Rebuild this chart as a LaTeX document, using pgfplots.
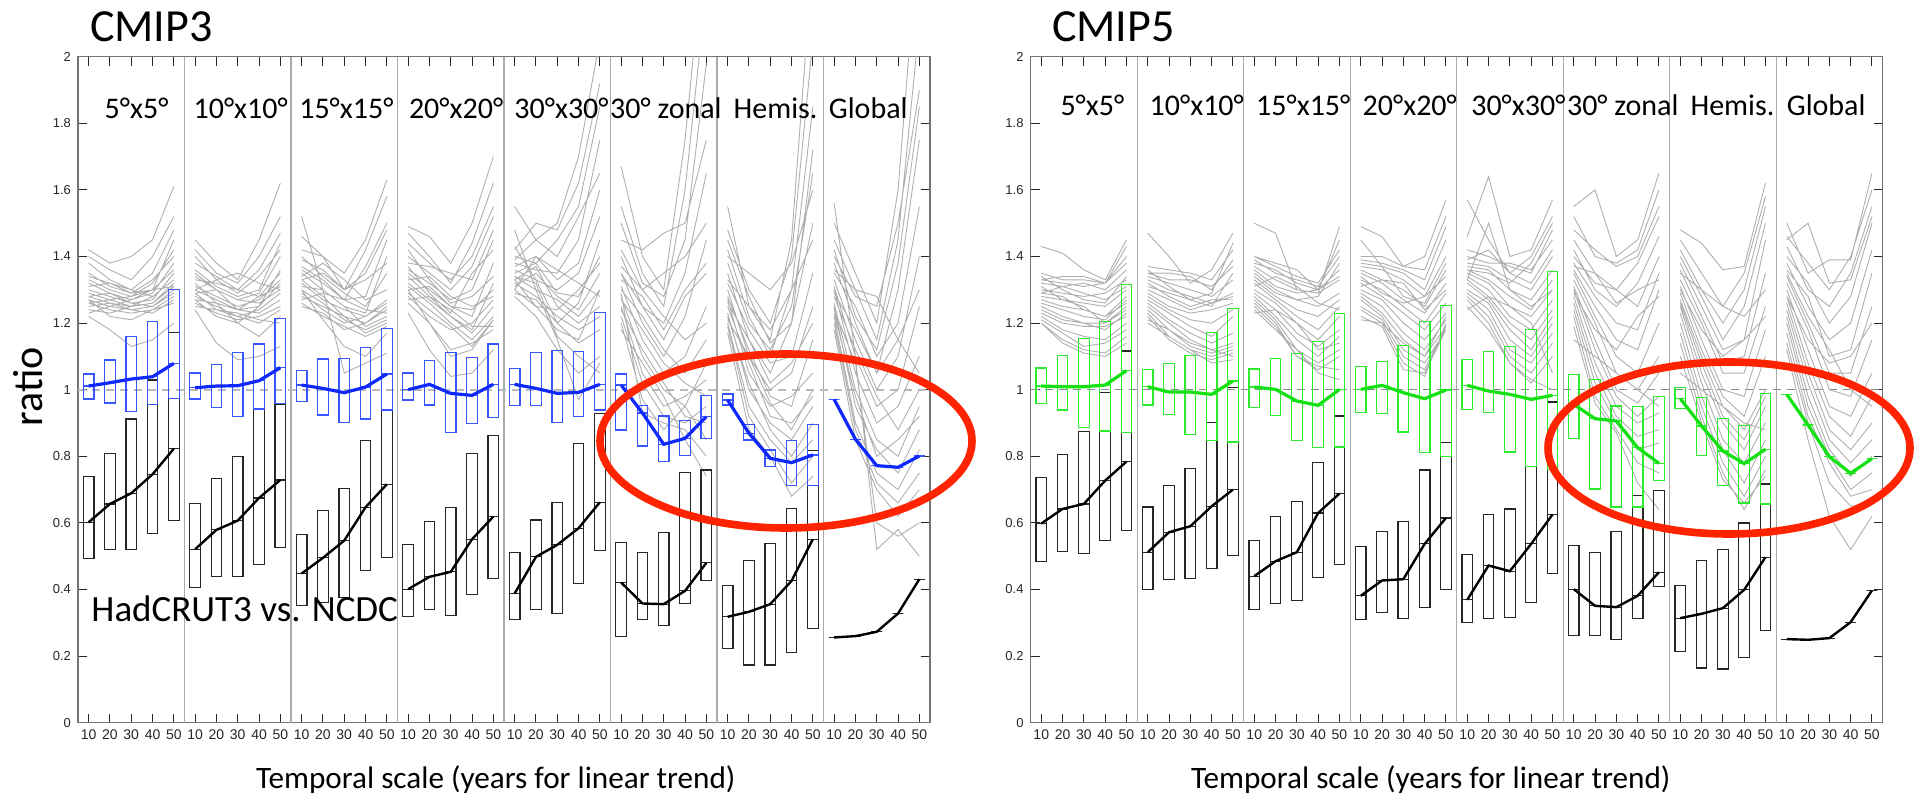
\documentclass[border=0pt]{standalone}
\usepackage{fontspec}
\setmainfont{Carlito}
\newfontfamily\tickfont{Liberation Sans}
\usepackage{pgfplots}
\pgfplotsset{compat=1.18}
\usepgfplotslibrary{statistics}
\usepackage{pgfplotstable}

\definecolor{boxblue}{RGB}{55,85,255}
\definecolor{lineblue}{RGB}{15,40,255}
\definecolor{boxgreen}{RGB}{45,235,45}
\definecolor{linegreen}{RGB}{20,225,20}
\definecolor{modelgray}{RGB}{175,175,175}
\definecolor{framegray}{RGB}{115,115,115}
\definecolor{sepgray}{RGB}{170,170,170}
\definecolor{ellred}{RGB}{255,35,0}

% ---------- box data (lq uq med) ----------
\pgfplotstableread{
lq uq med
0.972 1.047 1.011
0.960 1.089 1.021
0.934 1.159 1.032
0.956 1.204 1.039
0.974 1.302 1.079
0.972 1.050 1.006
0.947 1.076 1.011
0.919 1.112 1.012
0.942 1.137 1.027
0.959 1.214 1.066
0.964 1.058 1.014
0.924 1.092 1.004
0.901 1.094 0.991
0.912 1.126 1.008
0.939 1.184 1.047
0.969 1.050 1.000
0.954 1.087 1.016
0.872 1.112 0.989
0.899 1.097 0.983
0.916 1.137 1.016
0.952 1.064 1.016
0.952 1.112 1.004
0.902 1.117 0.989
0.919 1.114 0.992
0.939 1.232 1.016
0.879 1.047 1.014
0.831 0.952 0.930
0.784 0.921 0.836
0.803 0.907 0.854
0.854 0.983 0.919
0.954 0.987 0.969
0.849 0.896 0.869
0.769 0.819 0.794
0.713 0.847 0.781
0.713 0.896 0.804
0.971 0.971 0.971
0.851 0.851 0.851
0.772 0.772 0.772
0.767 0.767 0.767
0.801 0.801 0.801
}\boxAc
\pgfplotstableread{
lq uq med
0.493 0.739 0.602
0.519 0.809 0.657
0.519 0.912 0.689
0.567 1.029 0.746
0.607 1.172 0.823
0.406 0.659 0.521
0.440 0.733 0.579
0.440 0.800 0.607
0.475 0.940 0.675
0.526 0.957 0.729
0.353 0.564 0.448
0.360 0.637 0.495
0.376 0.704 0.547
0.456 0.847 0.647
0.496 0.939 0.716
0.320 0.534 0.401
0.340 0.604 0.438
0.323 0.647 0.453
0.385 0.809 0.551
0.432 0.862 0.619
0.311 0.511 0.388
0.340 0.609 0.498
0.328 0.662 0.534
0.418 0.839 0.584
0.517 0.929 0.662
0.258 0.542 0.421
0.311 0.511 0.358
0.291 0.572 0.356
0.358 0.752 0.396
0.426 0.759 0.480
0.222 0.411 0.318
0.173 0.487 0.333
0.173 0.539 0.356
0.210 0.644 0.426
0.283 0.817 0.551
0.256 0.256 0.256
0.260 0.260 0.260
0.273 0.273 0.273
0.328 0.328 0.328
0.431 0.431 0.431
}\boxAk
\pgfplotstableread{
lq uq med
0.958 1.065 1.011
0.939 1.102 1.009
0.886 1.154 1.009
0.876 1.205 1.014
0.871 1.315 1.057
0.954 1.060 1.009
0.926 1.079 0.993
0.866 1.102 0.993
0.848 1.172 0.986
0.843 1.244 1.026
0.946 1.062 1.008
0.923 1.094 1.001
0.848 1.109 0.966
0.826 1.145 0.953
0.828 1.230 1.001
0.931 1.070 1.001
0.929 1.085 1.013
0.873 1.132 0.991
0.811 1.205 0.973
0.799 1.254 0.999
0.941 1.090 1.013
0.931 1.115 0.996
0.813 1.129 0.986
0.769 1.180 0.971
0.761 1.355 0.983
0.853 1.045 0.956
0.702 1.030 0.913
0.648 0.951 0.906
0.648 0.949 0.826
0.727 0.979 0.779
0.943 1.006 0.973
0.803 0.976 0.891
0.712 0.914 0.816
0.660 0.893 0.778
0.657 0.989 0.821
0.986 0.986 0.986
0.894 0.894 0.894
0.799 0.799 0.799
0.749 0.749 0.749
0.793 0.793 0.793
}\boxBc
\pgfplotstableread{
lq uq med
0.485 0.736 0.598
0.513 0.806 0.642
0.508 0.874 0.657
0.548 0.991 0.727
0.578 1.116 0.784
0.401 0.648 0.512
0.429 0.713 0.572
0.434 0.764 0.590
0.463 0.901 0.650
0.503 1.006 0.700
0.339 0.548 0.440
0.359 0.620 0.485
0.367 0.665 0.512
0.437 0.781 0.630
0.475 0.921 0.688
0.311 0.528 0.381
0.332 0.573 0.427
0.314 0.605 0.431
0.347 0.759 0.537
0.401 0.841 0.615
0.302 0.505 0.369
0.312 0.625 0.472
0.315 0.642 0.455
0.362 0.769 0.537
0.447 0.963 0.625
0.262 0.533 0.401
0.262 0.510 0.351
0.249 0.575 0.347
0.314 0.682 0.381
0.409 0.698 0.452
0.214 0.411 0.314
0.164 0.488 0.327
0.161 0.520 0.344
0.197 0.600 0.399
0.276 0.717 0.497
0.251 0.251 0.251
0.249 0.249 0.249
0.254 0.254 0.254
0.302 0.302 0.302
0.397 0.397 0.397
}\boxBk

% one prepared box per table row, drawn at row+0.5
\newcommand{\drawbox}[3]{%
  \pgfplotstablegetelem{#2}{lq}\of#1\let\LQ\pgfplotsretval
  \pgfplotstablegetelem{#2}{uq}\of#1\let\UQ\pgfplotsretval
  \pgfplotstablegetelem{#2}{med}\of#1\let\MED\pgfplotsretval
  \pgfmathsetmacro\POS{#2+0.5}%
  \edef\temp{\noexpand\addplot[#3, boxplot prepared={draw position=\POS,
      lower whisker=\LQ, lower quartile=\LQ, median=\MED,
      upper quartile=\UQ, upper whisker=\UQ, box extend=0.5, whisker extend=0}] coordinates {};}%
  \temp
}

\pgfplotsset{
  panelaxis/.style={
    width=426pt, height=333pt, scale only axis,
    anchor=south west,
    xmin=0, xmax=40, ymin=0, ymax=2,
    ytick={0,0.2,0.4,0.6,0.8,1,1.2,1.4,1.6,1.8,2},
    xtick={0.5,1.5,...,39.5},
    xticklabels={10,20,30,40,50,10,20,30,40,50,10,20,30,40,50,10,20,30,40,50,
                 10,20,30,40,50,10,20,30,40,50,10,20,30,40,50,10,20,30,40,50},
    tick align=inside,
    major tick length=4.5pt,
    tick style={black!85, line width=0.5pt},
    axis line style={framegray, line width=0.7pt},
    xticklabel style={font=\tickfont\fontsize{7}{8}\selectfont, text=black!85},
    yticklabel style={font=\tickfont\fontsize{6.5}{7}\selectfont, text=black!85},
    /pgf/number format/assume math mode=true,
    extra x ticks={5,10,15,20,25,30,35},
    extra x tick labels={},
    extra x tick style={grid=major, major grid style={sepgray, line width=0.6pt}, major tick length=0pt},
    extra y ticks={1},
    extra y tick labels={},
    unbounded coords=jump,
    boxplot/draw direction=y,
  },
  model/.style={color=modelgray, line width=0.45pt},
  obsbox/.style={draw=black!85, line width=0.6pt, solid},
  bluebox/.style={draw=boxblue, line width=0.6pt, solid},
  greenbox/.style={draw=boxgreen, line width=0.6pt, solid},
}
\tikzset{plab/.style={anchor=base, font=\fontsize{15}{18}\selectfont}}

\begin{document}
\begin{tikzpicture}
\useasboundingbox (0,0) rectangle (958pt,397pt);

% ================= CMIP3 =================
\begin{axis}[panelaxis, at={(39pt,35.65pt)},
  extra y tick style={grid=major, major grid style={black!27, line width=1pt, dash pattern=on 4pt off 3pt}, major tick length=0pt}]
% model lines
\addplot[model] table[header=false, row sep=\\, x expr={mod(\coordindex,6)+0.5}, y index=0]{
1.42\\1.38\\1.40\\1.45\\1.61\\nan\\
1.40\\1.36\\1.33\\1.40\\1.52\\nan\\
1.38\\1.33\\1.30\\1.35\\1.48\\nan\\
1.34\\1.32\\1.29\\1.30\\1.45\\nan\\
1.33\\1.30\\1.28\\1.32\\1.42\\nan\\
1.32\\1.29\\1.27\\1.29\\1.38\\nan\\
1.31\\1.32\\1.30\\1.28\\1.33\\nan\\
1.30\\1.28\\1.26\\1.27\\1.35\\nan\\
1.29\\1.27\\1.28\\1.30\\1.31\\nan\\
1.28\\1.26\\1.25\\1.26\\1.32\\nan\\
1.28\\1.29\\1.26\\1.25\\1.29\\nan\\
1.27\\1.25\\1.24\\1.25\\1.30\\nan\\
1.26\\1.27\\1.25\\1.28\\1.33\\nan\\
1.26\\1.24\\1.23\\1.24\\1.28\\nan\\
1.25\\1.26\\1.24\\1.23\\1.27\\nan\\
1.24\\1.23\\1.25\\1.26\\1.31\\nan\\
1.23\\1.25\\1.27\\1.30\\1.36\\nan\\
1.22\\1.18\\1.13\\1.15\\1.20\\nan\\
1.35\\1.31\\1.29\\1.33\\1.40\\nan\\
1.27\\1.22\\1.21\\1.24\\1.26\\nan\\
};
\addplot[model] table[header=false, row sep=\\, x expr={mod(\coordindex,6)+5.5}, y index=0]{
1.45\\1.38\\1.33\\1.45\\1.62\\nan\\
1.42\\1.35\\1.32\\1.40\\1.52\\nan\\
1.38\\1.34\\1.30\\1.36\\1.47\\nan\\
1.36\\1.31\\1.28\\1.30\\1.44\\nan\\
1.34\\1.30\\1.27\\1.29\\1.40\\nan\\
1.33\\1.32\\1.30\\1.28\\1.35\\nan\\
1.31\\1.28\\1.25\\1.27\\1.33\\nan\\
1.30\\1.27\\1.24\\1.25\\1.32\\nan\\
1.29\\1.30\\1.27\\1.26\\1.30\\nan\\
1.28\\1.25\\1.22\\1.24\\1.29\\nan\\
1.27\\1.26\\1.24\\1.23\\1.27\\nan\\
1.26\\1.23\\1.21\\1.22\\1.25\\nan\\
1.25\\1.24\\1.22\\1.20\\1.24\\nan\\
1.24\\1.14\\1.09\\1.10\\1.13\\nan\\
1.32\\1.26\\1.20\\1.16\\1.22\\nan\\
1.30\\1.33\\1.35\\1.32\\1.30\\nan\\
1.27\\1.22\\1.20\\1.25\\1.36\\nan\\
1.35\\1.30\\1.24\\1.28\\1.31\\nan\\
1.29\\1.24\\1.23\\1.21\\1.20\\nan\\
1.40\\1.33\\1.29\\1.34\\1.42\\nan\\
};
\addplot[model] table[header=false, row sep=\\, x expr={mod(\coordindex,6)+10.5}, y index=0]{
1.52\\1.30\\1.05\\1.08\\1.11\\nan\\
1.46\\1.40\\1.35\\1.45\\1.63\\nan\\
1.42\\1.40\\1.30\\1.42\\1.58\\nan\\
1.39\\1.36\\1.30\\1.35\\1.48\\nan\\
1.37\\1.33\\1.27\\1.28\\1.45\\nan\\
1.35\\1.30\\1.25\\1.23\\1.40\\nan\\
1.34\\1.38\\1.33\\1.27\\1.30\\nan\\
1.33\\1.28\\1.22\\1.20\\1.25\\nan\\
1.32\\1.27\\1.24\\1.22\\1.27\\nan\\
1.31\\1.30\\1.25\\1.19\\1.22\\nan\\
1.30\\1.26\\1.21\\1.18\\1.21\\nan\\
1.29\\1.24\\1.20\\1.22\\1.26\\nan\\
1.28\\1.25\\1.22\\1.17\\1.20\\nan\\
1.27\\1.29\\1.27\\1.24\\1.23\\nan\\
1.26\\1.22\\1.19\\1.16\\1.19\\nan\\
1.25\\1.23\\1.18\\1.20\\1.24\\nan\\
1.36\\1.32\\1.27\\1.37\\1.50\\nan\\
1.40\\1.34\\1.29\\1.25\\1.35\\nan\\
1.30\\1.21\\1.13\\1.10\\1.17\\nan\\
1.33\\1.35\\1.30\\1.33\\1.38\\nan\\
};
\addplot[model] table[header=false, row sep=\\, x expr={mod(\coordindex,6)+15.5}, y index=0]{
1.49\\1.46\\1.38\\1.50\\1.70\\nan\\
1.47\\1.40\\1.32\\1.44\\1.62\\nan\\
1.44\\1.38\\1.33\\1.40\\1.55\\nan\\
1.40\\1.35\\1.30\\1.37\\1.52\\nan\\
1.38\\1.37\\1.35\\1.33\\1.48\\nan\\
1.36\\1.32\\1.27\\1.30\\1.45\\nan\\
1.35\\1.30\\1.25\\1.22\\1.38\\nan\\
1.34\\1.28\\1.22\\1.18\\1.32\\nan\\
1.33\\1.34\\1.28\\1.25\\1.28\\nan\\
1.32\\1.27\\1.22\\1.17\\1.25\\nan\\
1.31\\1.26\\1.20\\1.15\\1.22\\nan\\
1.30\\1.31\\1.25\\1.24\\1.30\\nan\\
1.29\\1.24\\1.19\\1.13\\1.21\\nan\\
1.28\\1.22\\1.18\\1.20\\1.27\\nan\\
1.27\\1.28\\1.24\\1.19\\1.19\\nan\\
1.26\\1.20\\1.12\\1.14\\1.18\\nan\\
1.23\\1.12\\1.04\\1.05\\1.12\\nan\\
1.30\\1.20\\1.10\\1.12\\1.21\\nan\\
1.37\\1.29\\1.23\\1.35\\1.42\\nan\\
1.42\\1.33\\1.26\\1.28\\1.34\\nan\\
};
\addplot[model] table[header=false, row sep=\\, x expr={mod(\coordindex,6)+20.5}, y index=0]{
1.55\\1.45\\1.50\\1.70\\2.05\\nan\\
1.42\\1.50\\1.48\\1.62\\1.92\\nan\\
1.40\\1.38\\1.45\\1.55\\1.85\\nan\\
1.38\\1.36\\1.35\\1.45\\1.75\\nan\\
1.37\\1.40\\1.33\\1.38\\1.60\\nan\\
1.36\\1.33\\1.30\\1.35\\1.52\\nan\\
1.35\\1.38\\1.29\\1.28\\1.40\\nan\\
1.34\\1.30\\1.27\\1.22\\1.30\\nan\\
1.33\\1.37\\1.25\\1.20\\1.25\\nan\\
1.32\\1.28\\1.22\\1.18\\1.22\\nan\\
1.31\\1.35\\1.28\\1.24\\1.35\\nan\\
1.30\\1.25\\1.18\\1.15\\1.30\\nan\\
1.29\\1.27\\1.20\\1.14\\1.18\\nan\\
1.28\\1.22\\1.12\\1.05\\1.10\\nan\\
1.48\\1.30\\1.15\\0.97\\1.08\\nan\\
1.43\\1.33\\1.20\\1.26\\1.45\\nan\\
1.39\\1.45\\1.40\\1.52\\1.65\\nan\\
1.33\\1.25\\1.24\\1.30\\1.38\\nan\\
1.30\\1.40\\1.36\\1.32\\1.28\\nan\\
1.34\\1.32\\1.16\\1.10\\1.05\\nan\\
};
\addplot[model] table[header=false, row sep=\\, x expr={mod(\coordindex,6)+25.5}, y index=0]{
1.67\\1.40\\1.30\\1.75\\2.40\\nan\\
1.55\\1.35\\1.25\\1.60\\2.20\\nan\\
1.50\\1.32\\1.28\\1.45\\1.98\\nan\\
1.45\\1.42\\1.47\\1.50\\1.75\\nan\\
1.40\\1.25\\1.20\\1.35\\1.65\\nan\\
1.37\\1.30\\1.35\\1.40\\1.50\\nan\\
1.35\\1.20\\1.10\\1.22\\1.45\\nan\\
1.33\\1.28\\1.18\\1.30\\1.38\\nan\\
1.31\\1.15\\1.05\\1.10\\1.25\\nan\\
1.30\\1.22\\1.12\\1.05\\1.15\\nan\\
1.28\\1.10\\1.00\\0.95\\1.08\\nan\\
1.27\\1.18\\1.08\\1.02\\0.98\\nan\\
1.25\\1.05\\0.95\\0.98\\1.03\\nan\\
1.24\\1.12\\1.02\\0.92\\0.90\\nan\\
1.22\\1.02\\0.92\\0.90\\0.95\\nan\\
1.20\\0.97\\0.88\\0.95\\0.85\\nan\\
1.18\\1.08\\0.98\\0.85\\0.74\\nan\\
1.35\\1.25\\1.15\\1.28\\1.35\\nan\\
1.42\\1.30\\1.22\\1.15\\1.20\\nan\\
1.29\\0.93\\0.90\\0.88\\0.80\\nan\\
};
\addplot[model] table[header=false, row sep=\\, x expr={mod(\coordindex,6)+30.5}, y index=0]{
1.55\\1.25\\1.15\\1.45\\2.30\\nan\\
1.48\\1.30\\1.20\\1.40\\2.05\\nan\\
1.42\\1.22\\1.10\\1.30\\1.85\\nan\\
1.38\\1.20\\1.12\\1.25\\1.65\\nan\\
1.35\\1.15\\1.05\\1.20\\1.50\\nan\\
1.32\\1.18\\1.08\\1.10\\1.35\\nan\\
1.30\\1.10\\1.00\\1.05\\1.25\\nan\\
1.28\\1.12\\0.98\\0.95\\1.15\\nan\\
1.27\\1.05\\0.95\\0.98\\1.05\\nan\\
1.25\\1.08\\0.92\\0.90\\0.98\\nan\\
1.23\\1.00\\0.90\\0.85\\0.95\\nan\\
1.22\\1.02\\0.88\\0.80\\0.90\\nan\\
1.20\\0.95\\0.85\\0.78\\0.85\\nan\\
1.19\\0.92\\0.82\\0.72\\0.80\\nan\\
1.17\\0.88\\0.80\\0.68\\0.74\\nan\\
1.33\\1.25\\1.18\\1.30\\1.45\\nan\\
1.40\\1.35\\1.30\\1.38\\1.60\\nan\\
1.26\\1.15\\1.02\\1.08\\1.20\\nan\\
1.21\\1.10\\0.96\\0.88\\1.00\\nan\\
1.45\\1.28\\1.14\\1.20\\1.72\\nan\\
};
\addplot[model] table[header=false, row sep=\\, x expr={mod(\coordindex,6)+35.5}, y index=0]{
1.56\\1.10\\0.52\\0.58\\0.50\\nan\\
1.50\\1.35\\1.20\\1.60\\2.40\\nan\\
1.45\\1.30\\1.15\\1.45\\2.10\\nan\\
1.40\\1.28\\1.25\\1.50\\1.90\\nan\\
1.38\\1.20\\1.05\\1.30\\1.75\\nan\\
1.35\\1.25\\1.10\\1.20\\1.55\\nan\\
1.33\\1.15\\1.00\\1.10\\1.40\\nan\\
1.31\\1.10\\0.95\\1.00\\1.25\\nan\\
1.30\\1.05\\0.90\\0.95\\1.10\\nan\\
1.28\\1.12\\0.98\\0.88\\1.00\\nan\\
1.26\\1.00\\0.85\\0.80\\0.95\\nan\\
1.25\\0.95\\0.82\\0.75\\0.88\\nan\\
1.23\\0.98\\0.80\\0.85\\0.92\\nan\\
1.22\\0.90\\0.75\\0.70\\0.82\\nan\\
1.20\\0.88\\0.72\\0.66\\0.75\\nan\\
1.18\\0.85\\0.70\\0.62\\0.70\\nan\\
1.36\\1.30\\1.28\\1.15\\1.05\\nan\\
1.42\\1.22\\1.12\\1.38\\1.85\\nan\\
1.29\\1.18\\1.05\\1.15\\1.30\\nan\\
1.24\\1.08\\0.60\\0.56\\0.60\\nan\\
};
% black boxes (observational)
\pgfplotsinvokeforeach{0,...,39}{\drawbox{\boxAk}{#1}{obsbox}}
\pgfplotsinvokeforeach{0:5,5:10,10:15,15:20,20:25,25:30,30:35,35:40}{
  \addplot[black, line width=1.2pt, restrict x to domain=#1] table[x expr=\coordindex+0.5, y=med]{\boxAk};
}
% blue boxes (models)
\pgfplotsinvokeforeach{0,...,39}{\drawbox{\boxAc}{#1}{bluebox}}
\pgfplotsinvokeforeach{0:5,5:10,10:15,15:20,20:25,25:30,30:35,35:40}{
  \addplot[lineblue, line width=1.6pt, restrict x to domain=#1] table[x expr=\coordindex+0.5, y=med]{\boxAc};
}
\node[plab] at (axis cs:2.75,1.813) {5°x5°};
\node[plab] at (axis cs:7.64,1.813) {10°x10°};
\node[plab] at (axis cs:12.6,1.813) {15°x15°};
\node[plab] at (axis cs:17.75,1.813) {20°x20°};
\node[plab] at (axis cs:22.7,1.813) {30°x30°};
\node[plab] at (axis cs:27.6,1.813) {30° zonal};
\node[plab] at (axis cs:32.75,1.813) {Hemis.};
\node[plab] at (axis cs:37.1,1.813) {Global};
\node[anchor=base west, font=\fontsize{18.5}{20}\selectfont] at (axis cs:0.3,0.303) {HadCRUT3 vs. NCDC};
\end{axis}

% ================= CMIP5 =================
\begin{axis}[panelaxis, at={(515.3pt,35.65pt)},
  extra y tick style={grid=major, major grid style={black!45, line width=0.5pt, dash pattern=on 4pt off 3pt}, major tick length=0pt}]
\addplot[model] table[header=false, row sep=\\, x expr={mod(\coordindex,6)+0.5}, y index=0]{
1.43\\1.41\\1.36\\1.33\\1.45\\nan\\
1.35\\1.33\\1.33\\1.32\\1.43\\nan\\
1.33\\1.34\\1.34\\1.32\\1.40\\nan\\
1.33\\1.32\\1.31\\1.32\\1.38\\nan\\
1.32\\1.31\\1.32\\1.30\\1.36\\nan\\
1.30\\1.29\\1.28\\1.29\\1.33\\nan\\
1.29\\1.31\\1.29\\1.27\\1.31\\nan\\
1.28\\1.27\\1.26\\1.25\\1.30\\nan\\
1.27\\1.25\\1.24\\1.22\\1.28\\nan\\
1.26\\1.24\\1.22\\1.21\\1.27\\nan\\
1.25\\1.22\\1.20\\1.20\\1.25\\nan\\
1.24\\1.21\\1.20\\1.18\\1.23\\nan\\
1.23\\1.20\\1.19\\1.19\\1.22\\nan\\
1.22\\1.18\\1.16\\1.15\\1.20\\nan\\
1.21\\1.17\\1.13\\1.14\\1.18\\nan\\
1.20\\1.15\\1.12\\1.11\\1.16\\nan\\
1.20\\1.14\\1.11\\1.10\\1.14\\nan\\
1.31\\1.27\\1.25\\1.20\\1.24\\nan\\
1.34\\1.30\\1.27\\1.26\\1.34\\nan\\
1.29\\1.28\\1.24\\1.22\\1.26\\nan\\
};
\addplot[model] table[header=false, row sep=\\, x expr={mod(\coordindex,6)+5.5}, y index=0]{
1.47\\1.40\\1.32\\1.36\\1.47\\nan\\
1.37\\1.36\\1.35\\1.33\\1.42\\nan\\
1.35\\1.35\\1.34\\1.30\\1.39\\nan\\
1.35\\1.33\\1.33\\1.31\\1.37\\nan\\
1.34\\1.32\\1.30\\1.28\\1.33\\nan\\
1.33\\1.30\\1.28\\1.26\\1.29\\nan\\
1.32\\1.28\\1.25\\1.27\\1.27\\nan\\
1.30\\1.27\\1.24\\1.26\\1.28\\nan\\
1.29\\1.25\\1.23\\1.24\\1.26\\nan\\
1.28\\1.24\\1.21\\1.20\\1.24\\nan\\
1.27\\1.23\\1.19\\1.16\\1.22\\nan\\
1.26\\1.21\\1.17\\1.14\\1.17\\nan\\
1.25\\1.20\\1.15\\1.12\\1.14\\nan\\
1.24\\1.18\\1.13\\1.11\\1.13\\nan\\
1.23\\1.16\\1.12\\1.10\\1.12\\nan\\
1.22\\1.15\\1.11\\1.09\\1.11\\nan\\
1.21\\1.18\\1.14\\1.12\\1.10\\nan\\
1.20\\1.16\\1.12\\1.08\\1.09\\nan\\
1.31\\1.29\\1.27\\1.25\\1.35\\nan\\
1.36\\1.31\\1.27\\1.29\\1.44\\nan\\
};
\addplot[model] table[header=false, row sep=\\, x expr={mod(\coordindex,6)+10.5}, y index=0]{
1.50\\1.47\\1.30\\1.29\\1.49\\nan\\
1.40\\1.38\\1.36\\1.30\\1.45\\nan\\
1.40\\1.37\\1.34\\1.32\\1.42\\nan\\
1.39\\1.35\\1.33\\1.31\\1.40\\nan\\
1.38\\1.36\\1.32\\1.30\\1.36\\nan\\
1.37\\1.33\\1.30\\1.29\\1.33\\nan\\
1.36\\1.31\\1.29\\1.30\\1.34\\nan\\
1.35\\1.30\\1.27\\1.25\\1.29\\nan\\
1.33\\1.28\\1.24\\1.22\\1.27\\nan\\
1.32\\1.27\\1.22\\1.18\\1.25\\nan\\
1.30\\1.26\\1.20\\1.15\\1.22\\nan\\
1.29\\1.24\\1.17\\1.13\\1.18\\nan\\
1.28\\1.22\\1.15\\1.10\\1.16\\nan\\
1.27\\1.21\\1.12\\1.08\\1.12\\nan\\
1.26\\1.20\\1.10\\1.06\\1.10\\nan\\
1.25\\1.19\\1.10\\1.07\\1.06\\nan\\
1.24\\1.18\\1.12\\1.05\\1.03\\nan\\
1.23\\1.24\\1.20\\1.12\\1.14\\nan\\
1.34\\1.29\\1.27\\1.28\\1.38\\nan\\
1.31\\1.34\\1.31\\1.26\\1.24\\nan\\
};
\addplot[model] table[header=false, row sep=\\, x expr={mod(\coordindex,6)+15.5}, y index=0]{
1.49\\1.46\\1.37\\1.40\\1.57\\nan\\
1.40\\1.40\\1.37\\1.36\\1.52\\nan\\
1.39\\1.38\\1.36\\1.33\\1.49\\nan\\
1.38\\1.37\\1.35\\1.30\\1.45\\nan\\
1.37\\1.36\\1.33\\1.28\\1.40\\nan\\
1.36\\1.33\\1.30\\1.25\\1.36\\nan\\
1.35\\1.32\\1.27\\1.23\\1.32\\nan\\
1.33\\1.30\\1.25\\1.20\\1.29\\nan\\
1.32\\1.28\\1.23\\1.18\\1.26\\nan\\
1.30\\1.27\\1.20\\1.15\\1.23\\nan\\
1.29\\1.25\\1.17\\1.12\\1.21\\nan\\
1.28\\1.23\\1.15\\1.10\\1.19\\nan\\
1.27\\1.22\\1.12\\1.08\\1.18\\nan\\
1.25\\1.21\\1.10\\1.06\\1.19\\nan\\
1.24\\1.20\\1.08\\1.04\\1.20\\nan\\
1.22\\1.19\\1.06\\1.05\\1.18\\nan\\
1.21\\1.20\\1.14\\1.10\\1.22\\nan\\
1.31\\1.33\\1.32\\1.24\\1.30\\nan\\
1.45\\1.37\\1.28\\1.26\\1.38\\nan\\
1.34\\1.29\\1.26\\1.28\\1.34\\nan\\
};
\addplot[model] table[header=false, row sep=\\, x expr={mod(\coordindex,6)+20.5}, y index=0]{
1.46\\1.64\\1.40\\1.42\\1.57\\nan\\
1.57\\1.45\\1.35\\1.40\\1.52\\nan\\
1.42\\1.40\\1.37\\1.35\\1.48\\nan\\
1.40\\1.38\\1.38\\1.36\\1.45\\nan\\
1.39\\1.42\\1.35\\1.32\\1.42\\nan\\
1.38\\1.37\\1.33\\1.30\\1.40\\nan\\
1.37\\1.36\\1.30\\1.27\\1.36\\nan\\
1.36\\1.33\\1.28\\1.24\\1.33\\nan\\
1.35\\1.32\\1.25\\1.22\\1.30\\nan\\
1.34\\1.30\\1.22\\1.18\\1.27\\nan\\
1.33\\1.28\\1.20\\1.15\\1.24\\nan\\
1.32\\1.27\\1.18\\1.12\\1.22\\nan\\
1.30\\1.26\\1.15\\1.10\\1.20\\nan\\
1.29\\1.24\\1.12\\1.08\\1.17\\nan\\
1.28\\1.22\\1.10\\1.05\\1.14\\nan\\
1.27\\1.20\\1.08\\1.02\\1.10\\nan\\
1.25\\1.18\\1.08\\1.03\\1.00\\nan\\
1.24\\1.28\\1.25\\1.20\\1.05\\nan\\
1.33\\1.50\\1.30\\1.25\\1.30\\nan\\
1.36\\1.35\\1.32\\1.38\\1.50\\nan\\
};
\addplot[model] table[header=false, row sep=\\, x expr={mod(\coordindex,6)+25.5}, y index=0]{
1.55\\1.60\\1.40\\1.45\\1.65\\nan\\
1.52\\1.40\\1.38\\1.42\\1.60\\nan\\
1.48\\1.42\\1.37\\1.40\\1.55\\nan\\
1.45\\1.35\\1.30\\1.38\\1.52\\nan\\
1.42\\1.30\\1.25\\1.32\\1.46\\nan\\
1.40\\1.32\\1.30\\1.25\\1.40\\nan\\
1.38\\1.28\\1.20\\1.18\\1.35\\nan\\
1.36\\1.25\\1.15\\1.12\\1.30\\nan\\
1.35\\1.22\\1.10\\1.05\\1.20\\nan\\
1.33\\1.20\\1.05\\1.00\\1.10\\nan\\
1.31\\1.15\\1.00\\0.96\\1.05\\nan\\
1.30\\1.12\\0.98\\0.92\\0.98\\nan\\
1.28\\1.08\\0.95\\0.90\\0.93\\nan\\
1.26\\1.05\\0.92\\0.86\\0.88\\nan\\
1.24\\1.02\\0.90\\0.82\\0.84\\nan\\
1.22\\0.98\\0.88\\0.78\\0.75\\nan\\
1.19\\0.96\\0.87\\0.72\\0.64\\nan\\
1.15\\1.10\\1.05\\1.00\\0.95\\nan\\
1.37\\1.35\\1.26\\1.30\\1.33\\nan\\
1.29\\1.18\\1.12\\1.22\\1.28\\nan\\
};
\addplot[model] table[header=false, row sep=\\, x expr={mod(\coordindex,6)+30.5}, y index=0]{
1.48\\1.44\\1.36\\1.37\\1.62\\nan\\
1.45\\1.35\\1.25\\1.35\\1.58\\nan\\
1.42\\1.30\\1.20\\1.30\\1.55\\nan\\
1.40\\1.28\\1.15\\1.25\\1.50\\nan\\
1.38\\1.25\\1.12\\1.15\\1.45\\nan\\
1.36\\1.22\\1.08\\1.10\\1.35\\nan\\
1.33\\1.20\\1.05\\1.05\\1.25\\nan\\
1.31\\1.15\\1.00\\0.98\\1.18\\nan\\
1.29\\1.12\\0.98\\0.92\\1.10\\nan\\
1.27\\1.10\\0.95\\0.88\\1.00\\nan\\
1.25\\1.05\\0.90\\0.82\\0.95\\nan\\
1.23\\1.02\\0.85\\0.78\\0.90\\nan\\
1.20\\0.98\\0.82\\0.72\\0.85\\nan\\
1.17\\0.95\\0.78\\0.68\\0.80\\nan\\
1.14\\0.92\\0.75\\0.64\\0.76\\nan\\
1.10\\0.90\\0.73\\0.66\\0.74\\nan\\
1.05\\1.00\\0.95\\0.90\\0.88\\nan\\
1.35\\1.30\\1.25\\1.22\\1.30\\nan\\
1.30\\1.18\\1.10\\1.15\\1.22\\nan\\
1.26\\1.08\\0.92\\0.85\\0.98\\nan\\
};
\addplot[model] table[header=false, row sep=\\, x expr={mod(\coordindex,6)+35.5}, y index=0]{
1.50\\1.35\\1.39\\1.39\\1.65\\nan\\
1.46\\1.38\\1.30\\1.40\\1.60\\nan\\
1.43\\1.30\\1.25\\1.35\\1.55\\nan\\
1.40\\1.32\\1.20\\1.28\\1.50\\nan\\
1.38\\1.25\\1.15\\1.20\\1.42\\nan\\
1.36\\1.28\\1.10\\1.12\\1.35\\nan\\
1.34\\1.20\\1.05\\1.05\\1.25\\nan\\
1.32\\1.18\\1.00\\0.98\\1.15\\nan\\
1.30\\1.12\\0.95\\0.92\\1.05\\nan\\
1.28\\1.08\\0.92\\0.86\\0.98\\nan\\
1.26\\1.05\\0.88\\0.82\\0.90\\nan\\
1.24\\1.02\\0.85\\0.78\\0.85\\nan\\
1.22\\0.98\\0.82\\0.74\\0.80\\nan\\
1.20\\0.95\\0.80\\0.70\\0.75\\nan\\
1.17\\0.92\\0.78\\0.68\\0.70\\nan\\
1.14\\0.90\\0.72\\0.65\\0.66\\nan\\
1.12\\0.85\\0.62\\0.52\\0.62\\nan\\
1.45\\1.50\\1.32\\1.33\\1.52\\nan\\
1.35\\1.22\\1.12\\1.00\\0.95\\nan\\
1.28\\1.15\\1.08\\1.10\\1.20\\nan\\
};
\pgfplotsinvokeforeach{0,...,39}{\drawbox{\boxBk}{#1}{obsbox}}
\pgfplotsinvokeforeach{0:5,5:10,10:15,15:20,20:25,25:30,30:35,35:40}{
  \addplot[black, line width=1.2pt, restrict x to domain=#1] table[x expr=\coordindex+0.5, y=med]{\boxBk};
}
\pgfplotsinvokeforeach{0,...,39}{\drawbox{\boxBc}{#1}{greenbox}}
\pgfplotsinvokeforeach{0:5,5:10,10:15,15:20,20:25,25:30,30:35,35:40}{
  \addplot[linegreen, line width=1.6pt, restrict x to domain=#1] table[x expr=\coordindex+0.5, y=med]{\boxBc};
}
\node[plab] at (axis cs:2.9,1.823) {5°x5°};
\node[plab] at (axis cs:7.8,1.823) {10°x10°};
\node[plab] at (axis cs:12.8,1.823) {15°x15°};
\node[plab] at (axis cs:17.8,1.823) {20°x20°};
\node[plab] at (axis cs:22.9,1.823) {30°x30°};
\node[plab] at (axis cs:27.8,1.823) {30° zonal};
\node[plab] at (axis cs:32.95,1.823) {Hemis.};
\node[plab] at (axis cs:37.35,1.823) {Global};
\end{axis}

% titles and axis labels
\node[anchor=base west, font=\fontsize{23}{26}\selectfont] at (41.5pt,376pt) {CMIP3};
\node[anchor=base west, font=\fontsize{23}{26}\selectfont] at (522.5pt,376pt) {CMIP5};
\node[anchor=base, rotate=90, font=\fontsize{21}{24}\selectfont] at (21pt,203.75pt) {ratio};
\node[anchor=base, font=\fontsize{15.6}{18}\selectfont] at (247.9pt,3pt) {Temporal scale (years for linear trend)};
\node[anchor=base, font=\fontsize{15.6}{18}\selectfont] at (715.4pt,3pt) {Temporal scale (years for linear trend)};
% highlight ellipses
\draw[ellred, line width=3.8pt] (393pt,176.5pt) ellipse [x radius=93pt, y radius=43.5pt];
\draw[ellred, line width=3.8pt] (864.5pt,173pt) ellipse [x radius=90.5pt, y radius=43pt];
\end{tikzpicture}
\end{document}
